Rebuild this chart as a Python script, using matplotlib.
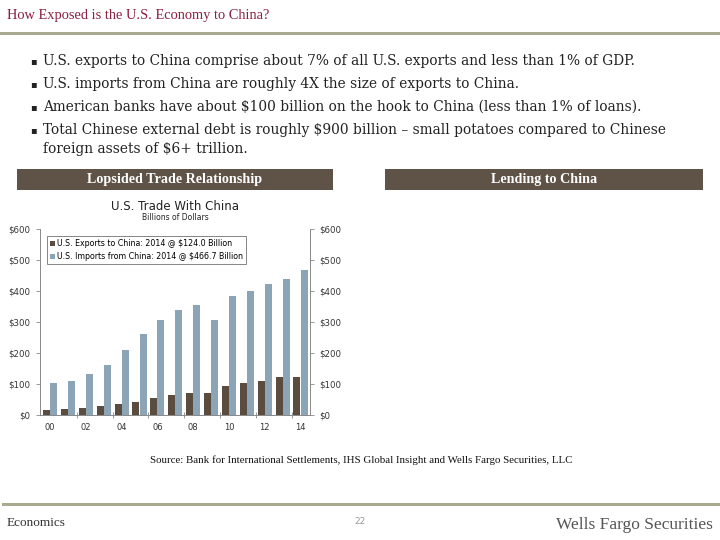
import numpy as np
import matplotlib
matplotlib.use('Agg')
import matplotlib.pyplot as plt
from matplotlib.patches import Rectangle

# ------------------------ DATA
years = ['00', '01', '02', '03', '04', '05', '06', '07', '08', '09', '10', '11', '12', '13', '14']
exports = [16, 19, 22, 28, 35, 41, 55, 65, 71, 70, 92, 104, 111, 122, 124]
imports = [104, 109, 133, 162, 210, 260, 306, 340, 356, 307, 383, 399, 424, 440, 467]
yticks = [0, 100, 200, 300, 400, 500, 600]
ytick_labels = ['$0', '$100', '$200', '$300', '$400', '$500', '$600']
legend_labels = ['U.S. Exports to China: 2014 @ $124.0 Billion',
                 'U.S. Imports from China: 2014 @ $466.7 Billion']
bullets = [
    'U.S. exports to China comprise about 7% of all U.S. exports and less than 1% of GDP.',
    'U.S. imports from China are roughly 4X the size of exports to China.',
    'American banks have about $100 billion on the hook to China (less than 1% of loans).',
    'Total Chinese external debt is roughly $900 billion \u2013 small potatoes compared to Chinese\nforeign assets of $6+ trillion.',
]

W, H = 720, 540
SERIF = 'Liberation Serif'
SLAB = 'DejaVu Serif'
BROWN = '#5b4c40'
BLUE = '#8ba4b6'
HEAD = '#5f5246'
RULE = '#a9aa90'


def fx(x):
    return x / W


def fy(y):
    return 1 - y / H


fig = plt.figure(figsize=(7.2, 5.4), dpi=100)

# ------------------------ slide frame
fig.text(fx(7), fy(16), 'How Exposed is the U.S. Economy to China?', family=SERIF,
         fontsize=10.4, color='#8b1f3f', va='center', ha='left')
fig.add_artist(Rectangle((0, fy(35)), 1, 3 / H, transform=fig.transFigure, color=RULE, lw=0))

line_y = [61, 84, 107, 130]
for y, txt in zip(line_y, bullets):
    fig.text(fx(33), fy(y), '\u25aa', fontsize=7, va='center', ha='center', color='#222222')
    fig.text(fx(43), fy(y - 7), txt, family=SLAB, fontsize=9.9, va='top', ha='left',
             color='#222222', linespacing=1.45)

# header bars
for x0, x1, label in [(17, 333, 'Lopsided Trade Relationship'), (385, 703, 'Lending to China')]:
    fig.add_artist(Rectangle((fx(x0), fy(190)), fx(x1 - x0), 21 / H,
                             transform=fig.transFigure, color=HEAD, lw=0))
    fig.text(fx((x0 + x1) / 2), fy(179.5), label, family=SERIF, fontsize=10.2,
             weight='bold', color='white', ha='center', va='center')

# ------------------------ CHART
ax = fig.add_axes([fx(40), fy(415), fx(270), 186 / H])
x = np.arange(len(years))
ax.bar(x - 0.2, exports, width=0.39, color=BROWN, label=legend_labels[0])
ax.bar(x + 0.2, imports, width=0.39, color=BLUE, label=legend_labels[1])
ax.set_xlim(-0.56, 14.53)
ax.set_ylim(0, 600)

ax.set_yticks(yticks)
ax.set_yticklabels(ytick_labels)
ax.set_xticks(x[::2])
ax.set_xticklabels(years[::2])
ax.set_xticks(np.arange(1.5, 14, 2), minor=True)
ax.tick_params(axis='y', which='both', left=True, right=True, labelleft=True, labelright=True,
               length=3, width=0.6, color='#888888', labelsize=6.2, labelcolor='#333333', pad=4)
ax.tick_params(axis='x', which='major', length=0, labelsize=6, labelcolor='#333333', pad=6)
ax.tick_params(axis='x', which='minor', direction='inout', length=4, width=0.6, color='#888888')
ax.spines['top'].set_visible(False)
for s in ['left', 'right', 'bottom']:
    ax.spines[s].set_color('#888888')
    ax.spines[s].set_linewidth(0.7)

leg = ax.legend(loc='upper left', bbox_to_anchor=(0.01, 0.985), fontsize=5.7, frameon=True,
                fancybox=False, edgecolor='#666666', handlelength=0.6, handleheight=0.6,
                handletextpad=0.3, borderpad=0.4, labelspacing=0.5)
leg.get_frame().set_linewidth(0.7)

fig.text(fx(175), fy(207), 'U.S. Trade With China', fontsize=8.5, ha='center', va='center',
         color='#222222')
fig.text(fx(175), fy(218), 'Billions of Dollars', fontsize=5.5, ha='center', va='center',
         color='#222222')

fig.text(fx(361), fy(460), 'Source: Bank for International Settlements, IHS Global Insight and Wells Fargo Securities, LLC',
         family=SERIF, fontsize=7.8, ha='center', va='center', color='#111111')

# ------------------------ footer
fig.add_artist(Rectangle((fx(2), fy(506)), 1, 3 / H, transform=fig.transFigure, color=RULE, lw=0))
fig.text(fx(7), fy(523), 'Economics', family=SERIF, fontsize=9.5, ha='left', va='center',
         color='#333333')
fig.text(fx(360), fy(521), '22', fontsize=6.5, ha='center', va='center', color='#999999')
fig.text(fx(713), fy(525), 'Wells Fargo Securities', family=SERIF, fontsize=12.5, ha='right',
         va='center', color='#555555')

fig.savefig('out.png', dpi=100)
plt.close(fig)
